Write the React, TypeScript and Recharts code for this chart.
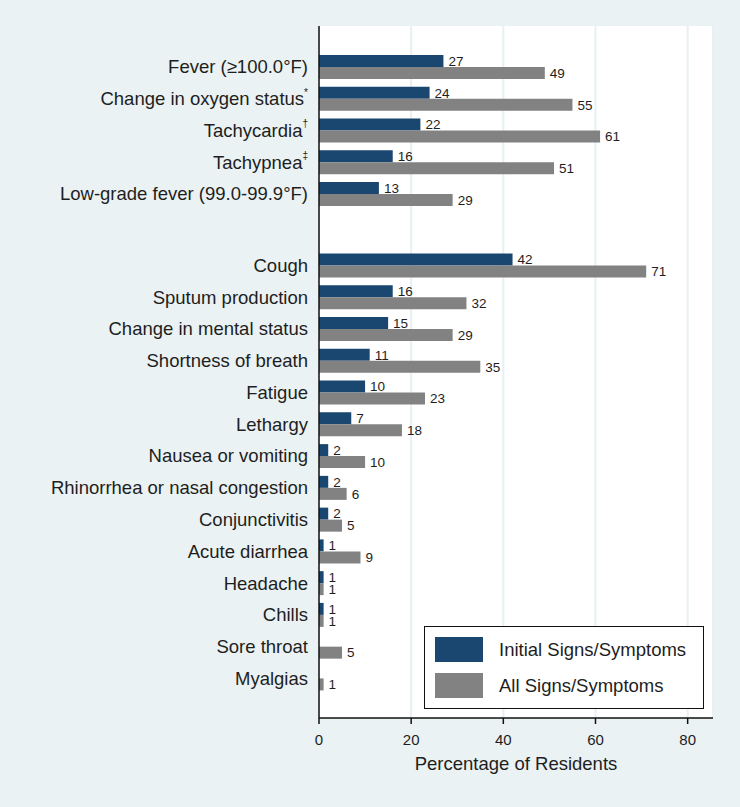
import React from "react"
import { BarChart, Bar, XAxis, YAxis, CartesianGrid, LabelList } from "recharts"

// vital signs group, then symptoms group
const vitalLabels = ["Fever (≥100.0°F)", "Change in oxygen status", "Tachycardia", "Tachypnea", "Low-grade fever (99.0-99.9°F)"]
const vitalMarks = ["", "*", "†", "‡", ""]
const vitalInitial = [27, 24, 22, 16, 13]
const vitalAll = [49, 55, 61, 51, 29]

const symptomLabels = [
  "Cough",
  "Sputum production",
  "Change in mental status",
  "Shortness of breath",
  "Fatigue",
  "Lethargy",
  "Nausea or vomiting",
  "Rhinorrhea or nasal congestion",
  "Conjunctivitis",
  "Acute diarrhea",
  "Headache",
  "Chills",
  "Sore throat",
  "Myalgias",
]
const symptomInitial = [42, 16, 15, 11, 10, 7, 2, 2, 2, 1, 1, 1, null, null]
const symptomAll = [71, 32, 29, 35, 23, 18, 10, 6, 5, 9, 1, 1, 5, 1]

const xTicks = [0, 20, 40, 60, 80]
const seriesNames = ["Initial Signs/Symptoms", "All Signs/Symptoms"]

const NAVY = "#1a476f"
const GRAY = "#828282"
const BG = "#eaf2f3"
const FONT = "'Liberation Sans', Arial, Helvetica, sans-serif"

// row slots: the symptoms block starts a little further down than one row
const GROUP_GAP = 2.25

const rows = [
  ...vitalLabels.map((label, i) => ({
    pos: i,
    label,
    mark: vitalMarks[i],
    initial: vitalInitial[i],
    all: vitalAll[i],
  })),
  ...symptomLabels.map((label, i) => ({
    pos: vitalLabels.length - 1 + GROUP_GAP + i,
    label,
    mark: "",
    initial: symptomInitial[i],
    all: symptomAll[i],
  })),
]

const rowByPos = new Map(rows.map((r) => [r.pos, r]))

function CategoryTick(props: any) {
  const { x, y, payload } = props
  const row = rowByPos.get(payload.value)
  if (!row) return null
  return (
    <text x={x} y={y} textAnchor="end" dominantBaseline="central" fontSize={18.5} fill="#1e1e1e" fontFamily={FONT}>
      {row.label}
      {row.mark ? (
        <tspan fontSize={10} dy={-7}>
          {row.mark}
        </tspan>
      ) : null}
    </text>
  )
}

function Legend() {
  const colors = [NAVY, GRAY]
  return (
    <div
      style={{
        position: "absolute",
        left: 424,
        top: 626,
        width: 278,
        height: 81,
        background: "#fff",
        border: "1.5px solid #111",
        fontFamily: FONT,
        fontSize: 18.5,
        color: "#1e1e1e",
      }}
    >
      {seriesNames.map((name, i) => (
        <div key={name} style={{ position: "absolute", left: 10, top: 10 + i * 36, display: "flex", alignItems: "center" }}>
          <div style={{ width: 48, height: 25, background: colors[i] }} />
          <span style={{ marginLeft: 16 }}>{name}</span>
        </div>
      ))}
    </div>
  )
}

export default function App() {
  const lastPos = rows[rows.length - 1].pos
  return (
    <div style={{ position: "absolute", left: 0, top: 0, width: 740, height: 807, background: BG }}>
      <BarChart
        width={740}
        height={807}
        data={rows}
        layout="vertical"
        margin={{ top: 26, right: 27, bottom: 59, left: 0 }}
        barGap={0}
        barSize={12}
      >
        <CartesianGrid horizontal={false} vertical={true} fill="#ffffff" stroke="#e7f0f3" strokeWidth={2} />
        <XAxis
          type="number"
          domain={[0, 85.5]}
          ticks={xTicks}
          allowDataOverflow
          height={30}
          axisLine={{ stroke: "#111", strokeWidth: 1.5 }}
          tickLine={{ stroke: "#111", strokeWidth: 1.5 }}
          tickSize={6}
          tickMargin={10}
          tick={{ fontSize: 15, fill: "#1e1e1e", fontFamily: FONT }}
          label={{ value: "Percentage of Residents", position: "bottom", offset: 9, fontSize: 18.5, fill: "#1e1e1e", fontFamily: FONT }}
        />
        <YAxis
          type="number"
          dataKey="pos"
          domain={[-1.29, lastPos + 1.25]}
          ticks={rows.map((r) => r.pos)}
          interval={0}
          width={319}
          axisLine={{ stroke: "#111", strokeWidth: 1.5 }}
          tickLine={false}
          tickSize={6}
          tickMargin={5}
          tick={<CategoryTick />}
        />
        <Bar dataKey="initial" name={seriesNames[0]} fill={NAVY} isAnimationActive={false}>
          <LabelList dataKey="initial" position="right" offset={5} fontSize={13.5} fill="#1e1e1e" fontFamily={FONT} />
        </Bar>
        <Bar dataKey="all" name={seriesNames[1]} fill={GRAY} isAnimationActive={false}>
          <LabelList dataKey="all" position="right" offset={5} fontSize={13.5} fill="#1e1e1e" fontFamily={FONT} />
        </Bar>
      </BarChart>
      <Legend />
    </div>
  )
}
